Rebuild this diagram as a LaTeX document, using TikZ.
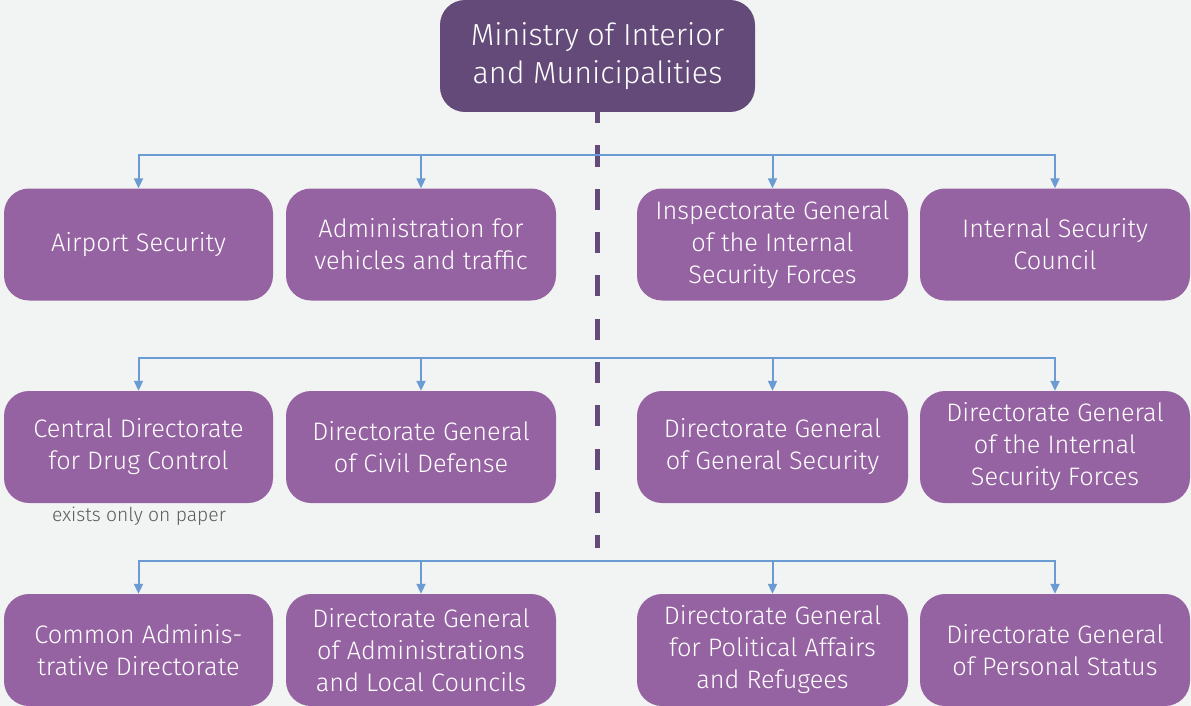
\documentclass[tikz,border=0pt]{standalone}
\usepackage{fontspec}
\setmainfont{Fira Sans Light}
\usetikzlibrary{arrows.meta}
\definecolor{bg}{HTML}{F2F3F3}
\definecolor{boxc}{HTML}{9663A2}
\definecolor{topc}{HTML}{634A79}
\definecolor{linec}{HTML}{6B9BD3}
\definecolor{grayt}{HTML}{5A5A5A}
\tikzset{
  unit/.style={fill=boxc, text=white, rounded corners=25pt, minimum width=270pt, minimum height=112pt,
    inner sep=0pt, align=center, font=\fontsize{25.3}{32}\selectfont},
  headbox/.style={fill=topc, text=white, rounded corners=25pt, minimum width=315pt, minimum height=112pt,
    inner sep=0pt, align=center, font=\fontsize{30.5}{38}\selectfont},
  conn/.style={draw=linec, line width=2pt, -{Triangle[length=10pt,width=9pt]}},
  dashline/.style={draw=topc, line width=5pt, dash pattern=on 21pt off 22.3pt, dash phase=10pt},
  note/.style={text=grayt, font=\fontsize{19.3}{22}\selectfont, inner sep=0pt}
}
\begin{document}
\begin{tikzpicture}[x=1pt,y=-1pt]
\fill[bg] (0,0) rectangle (1191,706);
\useasboundingbox (0,0) rectangle (1191,706);
\node[headbox] (top) at (597.5,56) {Ministry of Interior\\and Municipalities};
\coordinate (dend) at (597.5,548);
\draw[dashline] (top.south) -- (dend);

% row 1
\node[unit, minimum width=269pt] (a1) at (138.5,244.5) {Airport Security};
\node[unit] (a2) at (421,244.5) {Administration for\\vehicles and traffic};
\node[unit, minimum width=271pt] (a3) at (772.5,244.5) {Inspectorate General\\of the Internal\\Security Forces};
\node[unit] (a4) at (1055,244.5) {Internal Security\\Council};
% row 2
\node[unit, minimum width=269pt] (b1) at (138.5,447) {Central Directorate\\for Drug Control};
\node[unit] (b2) at (421,447) {Directorate General\\of Civil Defense};
\node[unit, minimum width=271pt] (b3) at (772.5,447) {Directorate General\\of General Security};
\node[unit] (b4) at (1055,447) {Directorate General\\of the Internal\\Security Forces};
% row 3
\node[unit, minimum width=269pt] (c1) at (138.5,650) {Common Adminis-\\trative Directorate};
\node[unit] (c2) at (421,650) {Directorate General\\of Administrations\\and Local Councils};
\node[unit, minimum width=271pt] (c3) at (772.5,650) {Directorate General\\for Political Affairs\\and Refugees};
\node[unit] (c4) at (1055,650) {Directorate General\\of Personal Status};

\node[note] (n1) at (139,516) {exists only on paper};

\coordinate (h1) at (597.5,155);
\coordinate (h2) at (597.5,358);
\coordinate (h3) at (597.5,561);
\foreach \n in {a1,a2,a3,a4} {\draw[conn] (h1) -| (\n.north);}
\foreach \n in {b1,b2,b3,b4} {\draw[conn] (h2) -| (\n.north);}
\foreach \n in {c1,c2,c3,c4} {\draw[conn] (h3) -| (\n.north);}
\end{tikzpicture}
\end{document}
